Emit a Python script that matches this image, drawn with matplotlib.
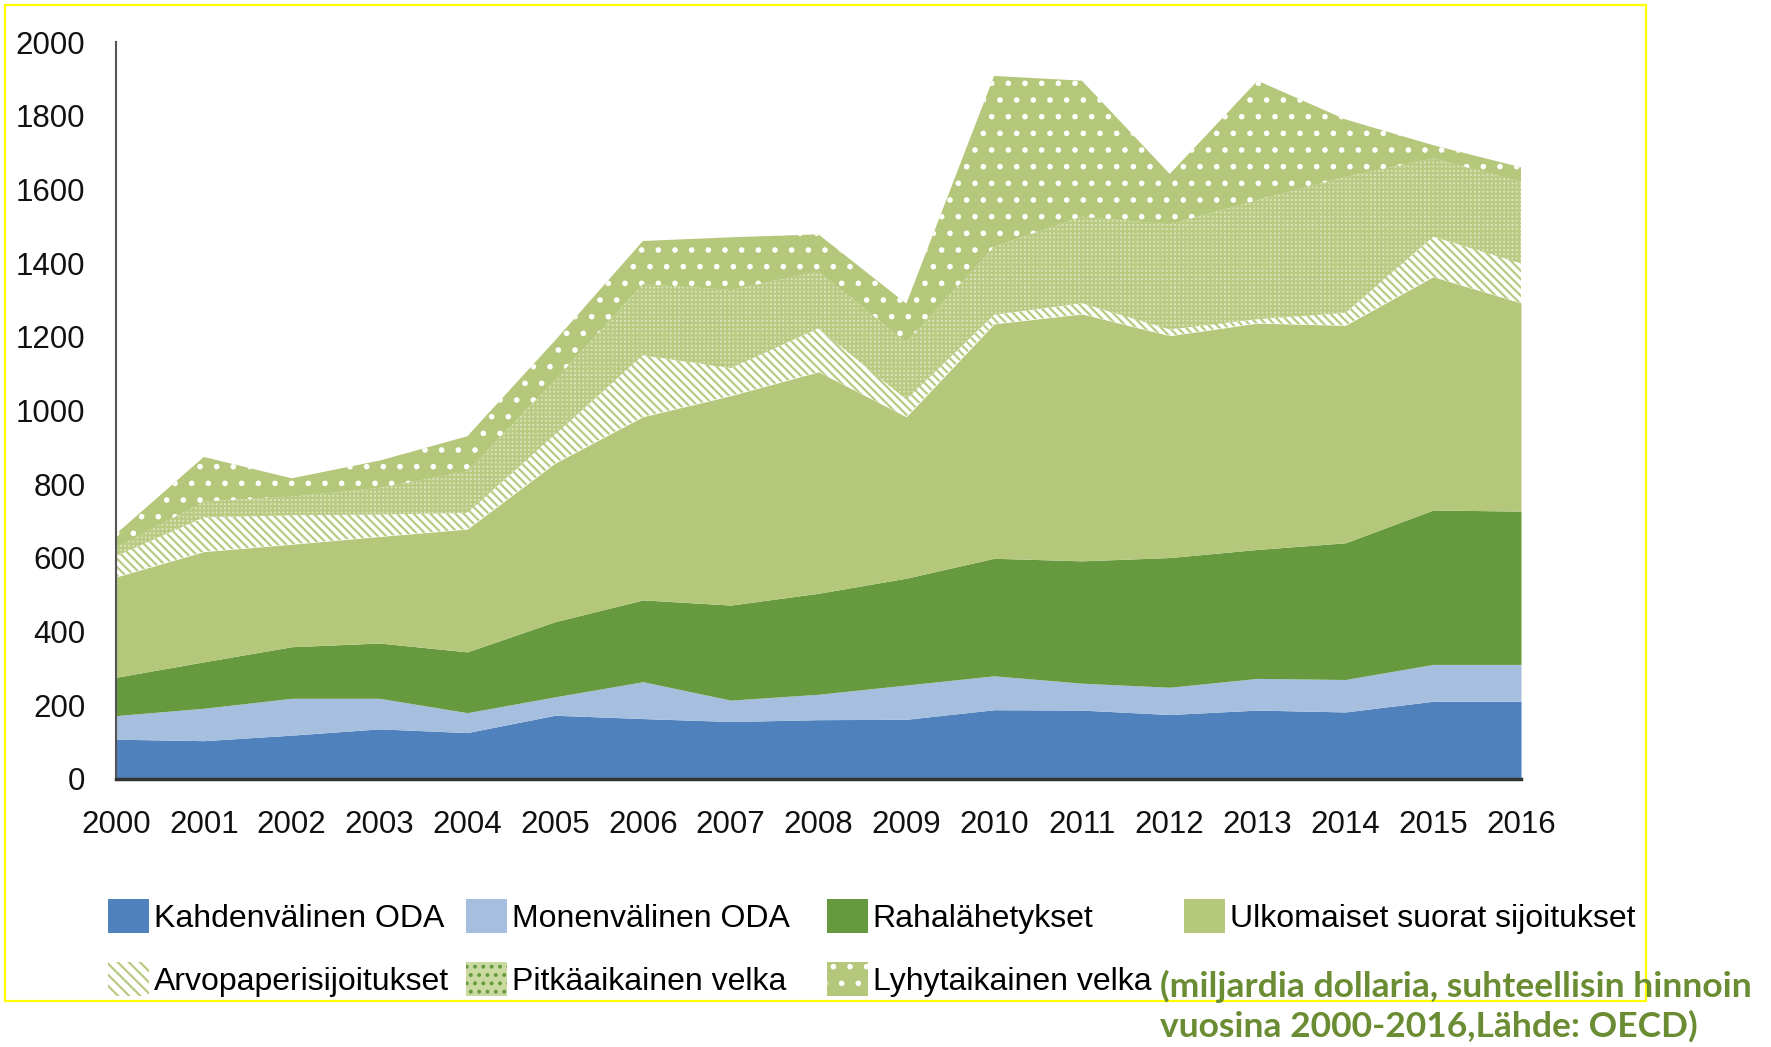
import matplotlib
matplotlib.use("Agg")
import matplotlib.pyplot as plt
import matplotlib.patches as mpatches
import numpy as np

# Data (miljardia dollaria)
vuodet = list(range(2000, 2017))
kahdenvalinen_oda = [108, 104, 119, 136, 126, 173, 164, 156, 161, 162, 188, 187, 175, 187, 182, 211, 211]
monenvalinen_oda = [64, 88, 100, 83, 54, 50, 100, 58, 69, 93, 92, 73, 74, 86, 88, 100, 100]
rahalahetykset = [104, 126, 140, 150, 165, 204, 222, 258, 274, 290, 319, 332, 352, 350, 371, 419, 416]
ulkomaiset_fdi = [272, 299, 278, 289, 333, 430, 497, 568, 601, 438, 636, 670, 602, 614, 590, 633, 565]
arvopaperi = [57, 93, 79, 60, 44, 78, 167, 75, 118, 47, 25, 29, 17, 11, 34, 109, 107]
pitkaaikainen = [23, 43, 50, 72, 113, 148, 193, 212, 154, 155, 185, 235, 285, 323, 369, 212, 222]
lyhytaikainen = [37, 121, 50, 74, 95, 107, 117, 143, 101, 105, 463, 369, 137, 324, 156, 36, 39]

nimet = ["Kahdenvälinen ODA", "Monenvälinen ODA", "Rahalähetykset",
         "Ulkomaiset suorat sijoitukset", "Arvopaperisijoitukset",
         "Pitkäaikainen velka", "Lyhytaikainen velka"]
y_ticks = [0, 200, 400, 600, 800, 1000, 1200, 1400, 1600, 1800, 2000]
kuvateksti = "(miljardia dollaria, suhteellisin hinnoin\nvuosina 2000-2016,Lähde: OECD)"

sarjat = [kahdenvalinen_oda, monenvalinen_oda, rahalahetykset, ulkomaiset_fdi,
          arvopaperi, pitkaaikainen, lyhytaikainen]

# style per layer: facecolor, hatch, hatch colour
tyylit = [
    ("#4f81bd", None, "#4f81bd"),
    ("#a6bfdf", None, "#a6bfdf"),
    ("#679a3e", None, "#679a3e"),
    ("#b5c77a", None, "#b5c77a"),
    ("#ffffff", "\\\\\\\\", "#b9ca82"),
    ("#dbe5bd", "++++", "#b9ca82"),
    ("#b5c77a", ".", "#ffffff"),
]

plt.rcParams['font.family'] = ['Liberation Sans', 'DejaVu Sans']
plt.rcParams['hatch.linewidth'] = 1.6

fig = plt.figure(figsize=(17.71, 10.47), dpi=100)
ax = fig.add_axes([116 / 1771, 1 - 779 / 1047, (1521 - 116) / 1771, (779 - 42) / 1047])

x = np.array(vuodet)
pohja = np.zeros(len(x))
for arvot, (fc, hatch, hc) in zip(sarjat, tyylit):
    ylä = pohja + np.array(arvot)
    ax.fill_between(x, pohja, ylä, facecolor=fc, hatch=hatch, edgecolor=hc, linewidth=0)
    pohja = ylä

ax.set_xlim(2000, 2016)
ax.set_ylim(0, 2000)
ax.set_xticks(vuodet)
ax.set_yticks(y_ticks)
ax.tick_params(axis='both', length=0, labelsize=22.5, pad=22, colors='#111111')
for s in ['top', 'right']:
    ax.spines[s].set_visible(False)
ax.spines['left'].set_color('#555555')
ax.spines['left'].set_linewidth(1.5)
ax.spines['bottom'].set_color('#333333')
ax.spines['bottom'].set_linewidth(2.5)

# legend: one small legend per column so columns sit where they are in the reference
kahvat = []
for fc, hatch, hc in tyylit:
    kahvat.append(mpatches.Patch(facecolor=fc, hatch=hatch, edgecolor=hc, linewidth=0))
kahvat[4] = mpatches.Patch(facecolor='white', hatch="\\\\\\", edgecolor="#b9ca82", linewidth=0)
kahvat[5] = mpatches.Patch(facecolor='#c9d9a0', hatch="..", edgecolor="#679a3e", linewidth=0)
sarakkeet = [[0, 4], [1, 5], [2, 6], [3]]
sarake_x = [108, 466, 827, 1184]
for idx, sx in zip(sarakkeet, sarake_x):
    leg = fig.legend([kahvat[i] for i in idx], [nimet[i] for i in idx],
                     loc='upper left', bbox_to_anchor=(sx / 1771, 1 - 899 / 1047),
                     frameon=False, fontsize=23, handlelength=1.28, handleheight=1.28,
                     handletextpad=0.15, labelspacing=0.88, borderpad=0,
                     borderaxespad=0)

fig.text(1160 / 1771, 1 - 970 / 1047, kuvateksti, fontsize=25.5, fontweight='bold',
         family=['Lato', 'DejaVu Sans'], color='#6a8c32', va='top', ha='left',
         linespacing=1.25)

# yellow frame
fig.patches.append(mpatches.Rectangle((4.5 / 1771, 1 - 1001 / 1047), (1646 - 4.5) / 1771,
                                      (1001 - 5) / 1047, transform=fig.transFigure,
                                      fill=False, edgecolor='#ffff00', linewidth=1.6))

fig.savefig("out.png", dpi=100)
